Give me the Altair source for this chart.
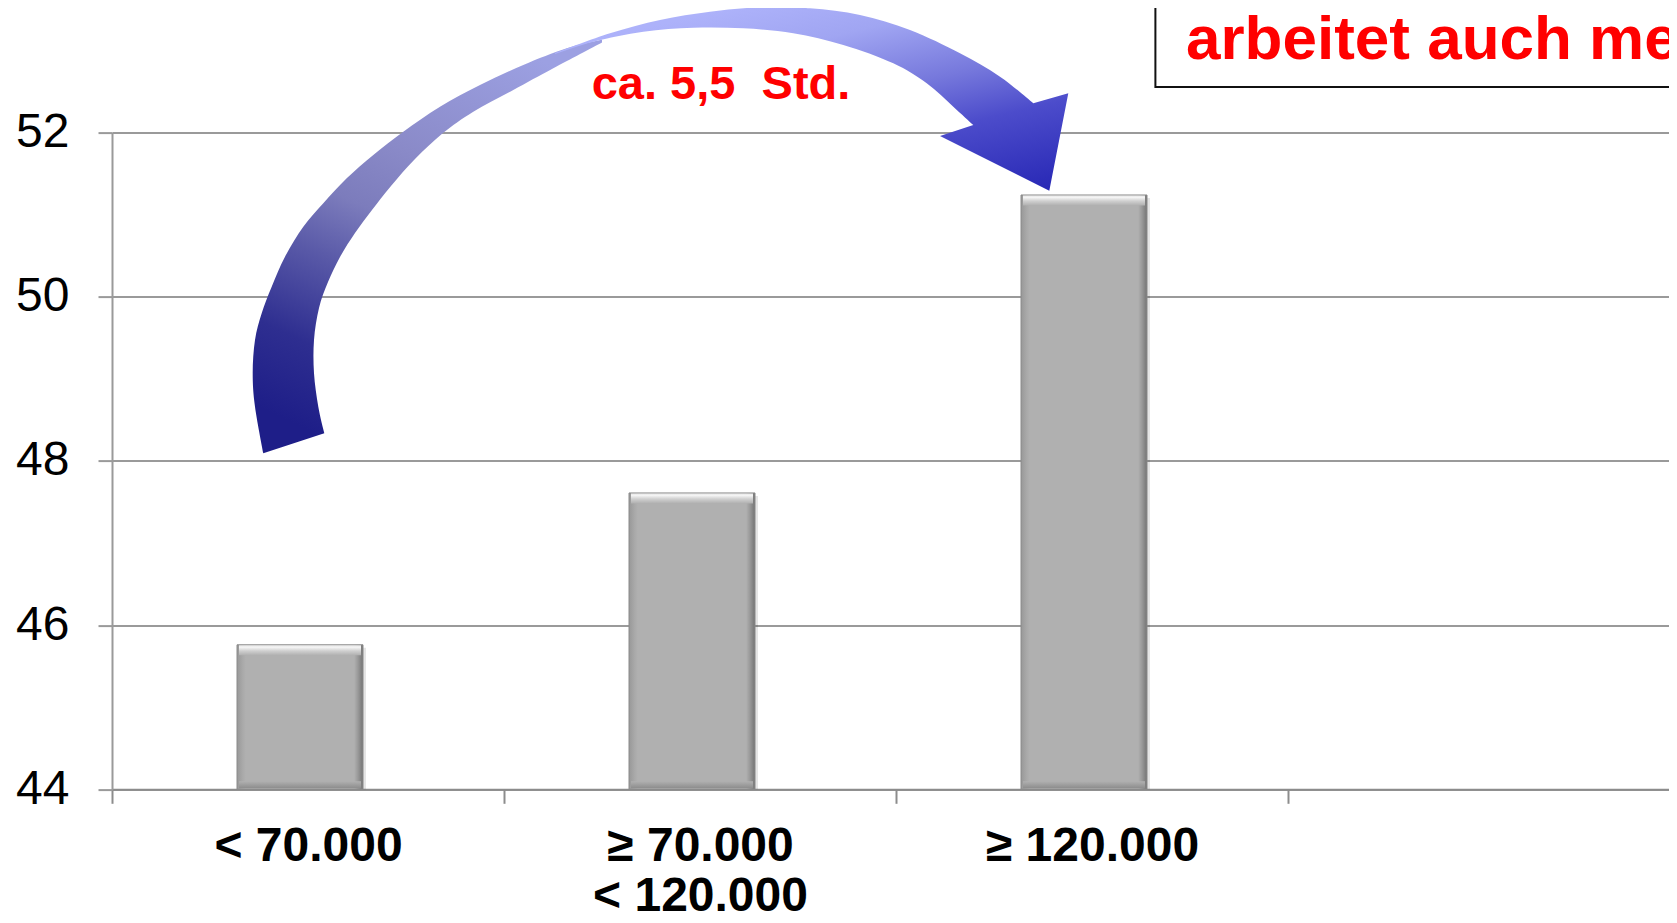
import altair as alt
import pandas as pd

# ---------------- data ----------------
categories = ["< 70.000", "≥ 70.000\n< 120.000", "≥ 120.000"]
spare_category = " "
hours = [45.76, 47.61, 51.24]
y_ticks = [44, 46, 48, 50, 52]
annotation_text = "ca. 5,5\u00a0 Std."
box_text = "arbeitet auch mehr"

# ---------------- layout (pixels) ----------------
SVG_W, SVG_H = 1661, 906
ORIGIN_X, ORIGIN_Y = 112, 132.6   # plot origin on the page
PLOT_H = 656.7
PLOT_W = SVG_W - (ORIGIN_X - 8)
BAND_RANGE = 1568      # full 4-band range (last band runs off the page)
PAD = {"left": ORIGIN_X - 8, "top": ORIGIN_Y - 8, "right": 0,
       "bottom": SVG_H - (ORIGIN_Y - 8) - PLOT_H}

FONT = "Liberation Sans"

df = pd.DataFrame({"cat": categories, "hours": hours})
one = pd.DataFrame({"k": [0]})

x_axis = alt.Axis(
    title=None, labelAngle=0, labelFont=FONT, labelFontSize=48, labelFontWeight="bold",
    labelColor="#000000", labelPadding=19, labelLineHeight=50, labelLimit=0,
    labelExpr="split(datum.label, '\\n')", labelBaseline="top",
    tickBand="extent", tickSize=14, tickWidth=2, tickColor="#8c8c8c",
    domainColor="#8c8c8c", domainWidth=2, grid=False,
)
y_axis = alt.Axis(
    title=None, values=y_ticks, labelFont=FONT, labelFontSize=48, labelColor="#000000",
    labelPadding=29, labelLimit=0, tickSize=14, tickWidth=2, tickColor="#9a9a9a",
    domainColor="#9a9a9a", domainWidth=2, grid=True, gridColor="#9a9a9a", gridWidth=2,
)
x_scale = alt.Scale(domain=categories + [spare_category], range=[0, BAND_RANGE],
                    paddingInner=0, paddingOuter=0)
y_scale = alt.Scale(domain=[y_ticks[0], y_ticks[-1]], zero=False, nice=False)

x_enc = alt.X("cat:N", axis=x_axis, scale=x_scale)
y_enc = alt.Y("hours:Q", axis=y_axis, scale=y_scale)
y_base = alt.YDatum(y_ticks[0], type="quantitative", axis=y_axis, scale=y_scale)

bar_fill = alt.LinearGradient(
    gradient="linear", x1=0, x2=1, y1=0, y2=0,
    stops=[alt.GradientStop(color="#989898", offset=0),
           alt.GradientStop(color="#a9a9a9", offset=0.045),
           alt.GradientStop(color="#b0b0b0", offset=0.07),
           alt.GradientStop(color="#b0b0b0", offset=0.93),
           alt.GradientStop(color="#999999", offset=0.96),
           alt.GradientStop(color="#747474", offset=1)])
top_fill = alt.LinearGradient(
    gradient="linear", x1=0, x2=0, y1=0, y2=1,
    stops=[alt.GradientStop(color="#e6e6e6", offset=0),
           alt.GradientStop(color="#f4f4f4", offset=0.2),
           alt.GradientStop(color="#d0d0d0", offset=0.55),
           alt.GradientStop(color="#b0b0b0", offset=1)])
bottom_fill = alt.LinearGradient(
    gradient="linear", x1=0, x2=0, y1=0, y2=1,
    stops=[alt.GradientStop(color="#b0b0b0", offset=0),
           alt.GradientStop(color="#8c8c8c", offset=1)])

shadow = alt.Chart(df).mark_bar(width=126, xOffset=-5, yOffset=3, color="#000000", opacity=0.10).encode(
    x=x_enc, y=y_enc, y2=alt.datum(y_ticks[0]))
bars = alt.Chart(df).mark_bar(width=126, xOffset=-8, fill=bar_fill, stroke="#8a8a8a", strokeWidth=1).encode(
    x=x_enc, y=y_enc, y2=alt.datum(y_ticks[0]))
bevel_top = alt.Chart(df).mark_tick(size=122, thickness=10, xOffset=-8, yOffset=5.5, fill=top_fill,
                                    opacity=1).encode(x=x_enc, y=y_enc)
bevel_bottom = alt.Chart(df).mark_tick(size=122, thickness=7, xOffset=-8, yOffset=-4.5, fill=bottom_fill,
                                       opacity=1).encode(x=x_enc, y=y_base)

# ---------------- curved arrow (decoration), page coordinates ----------------
left_outer = [(263.3, 453.3), (255, 406.7), (252.7, 373.3), (255, 340), (261.7, 313.3), (271.7, 286.7),
              (285, 256.7), (303.3, 226.7), (323.3, 203.3), (346.7, 178.3), (373.3, 155), (403.3, 131.7),
              (440, 106.7), (480, 85), (523.3, 65), (566.7, 48.3), (602, 39.5)]
left_inner = [(602, 42.5), (553.3, 68.3), (513.3, 90), (473.3, 111.7), (443, 133), (415, 159),
              (391, 186), (372, 210), (355, 233), (340, 257), (328, 282), (319, 308), (314, 340),
              (314, 373.3), (318.3, 406.7), (324.3, 433.3)]
right_outer = [(555, 53), (610, 33.3), (660, 20), (710, 11.7), (760, 7.3), (810, 8.3), (860, 15),
               (910, 30), (960, 53.3), (1000, 76.7), (1033.3, 103.3)]
arrow_head = [(1068.3, 93.3), (1049.3, 190.7), (940, 136)]
right_inner = [(973.3, 125), (953.3, 106.7), (926.7, 83.3), (893.3, 63.3), (843.3, 45), (793.3, 33.3),
               (743.3, 28.3), (693.3, 27.7), (643.3, 31.7), (593.3, 41.7), (555, 54)]


def rel(p):
    return (p[0] - ORIGIN_X, p[1] - ORIGIN_Y)


def smooth(points):
    pts = [rel(p) for p in points]
    out = []
    n = len(pts)
    for i in range(n - 1):
        p0 = pts[i - 1] if i > 0 else pts[i]
        p1 = pts[i]
        p2 = pts[i + 1]
        p3 = pts[i + 2] if i + 2 < n else pts[i + 1]
        c1 = (p1[0] + (p2[0] - p0[0]) / 6, p1[1] + (p2[1] - p0[1]) / 6)
        c2 = (p2[0] - (p3[0] - p1[0]) / 6, p2[1] - (p3[1] - p1[1]) / 6)
        out.append("C%.1f,%.1f %.1f,%.1f %.1f,%.1f" % (c1[0], c1[1], c2[0], c2[1], p2[0], p2[1]))
    return " ".join(out)


def lines(points):
    return " ".join("L%.1f,%.1f" % rel(p) for p in points)


s = rel(left_outer[0])
left_path = ("M%.1f,%.1f " % s) + smooth(left_outer) + " " + lines(left_inner[:1]) + " " + \
    smooth(left_inner) + " Z"
s = rel(right_outer[0])
right_path = ("M%.1f,%.1f " % s) + smooth(right_outer) + " " + lines(arrow_head + right_inner[:1]) + \
    " " + smooth(right_inner) + " Z"

left_fill = alt.LinearGradient(
    gradient="linear", x1=0.3, y1=1, x2=0.7, y2=0,
    stops=[alt.GradientStop(color="#1e1e88", offset=0),
           alt.GradientStop(color="#2e2e90", offset=0.18),
           alt.GradientStop(color="#5a5aa8", offset=0.38),
           alt.GradientStop(color="#7c7cbc", offset=0.52),
           alt.GradientStop(color="#8a8ac8", offset=0.68),
           alt.GradientStop(color="#9ca0e2", offset=1)])
right_fill = alt.LinearGradient(
    gradient="linear", x1=0.35, y1=0, x2=1, y2=1,
    stops=[alt.GradientStop(color="#adb2fa", offset=0),
           alt.GradientStop(color="#a0a5f2", offset=0.2),
           alt.GradientStop(color="#7678dc", offset=0.45),
           alt.GradientStop(color="#4c4ccb", offset=0.65),
           alt.GradientStop(color="#2626b4", offset=1)])

arrow_left = alt.Chart(one).mark_point(shape=left_path, size=4, filled=True, fill=left_fill,
                                       opacity=1, strokeWidth=0).encode(x=alt.value(0), y=alt.value(0))
arrow_right = alt.Chart(one).mark_point(shape=right_path, size=4, filled=True, fill=right_fill,
                                        opacity=1, strokeWidth=0).encode(x=alt.value(0), y=alt.value(0))

label = alt.Chart(one).mark_text(text=annotation_text, font=FONT, fontSize=47, fontWeight="bold",
                                 color="#ff0000", align="center", baseline="alphabetic").encode(
    x=alt.value(721 - ORIGIN_X), y=alt.value(99 - ORIGIN_Y))

box = alt.Chart(one).mark_rect(fill="#ffffff", stroke="#111111", strokeWidth=2).encode(
    x=alt.value(1155.4 - ORIGIN_X), x2=alt.value(1700), y=alt.value(-300), y2=alt.value(87 - ORIGIN_Y))
box_label = alt.Chart(one).mark_text(text=box_text, font=FONT, fontSize=62, fontWeight="bold",
                                     color="#ff0000", align="left", baseline="alphabetic").encode(
    x=alt.value(1186 - ORIGIN_X), y=alt.value(59.3 - ORIGIN_Y))

chart = alt.layer(shadow, bars, bevel_top, bevel_bottom, arrow_left, arrow_right, label, box,
                  box_label).properties(
    width=PLOT_W, height=PLOT_H,
    autosize=alt.AutoSizeParams(type="none"),
    padding=PAD,
    background="#ffffff",
).configure_view(stroke="transparent")

chart.save("out.html", embed_options={"renderer": "svg", "actions": False})
